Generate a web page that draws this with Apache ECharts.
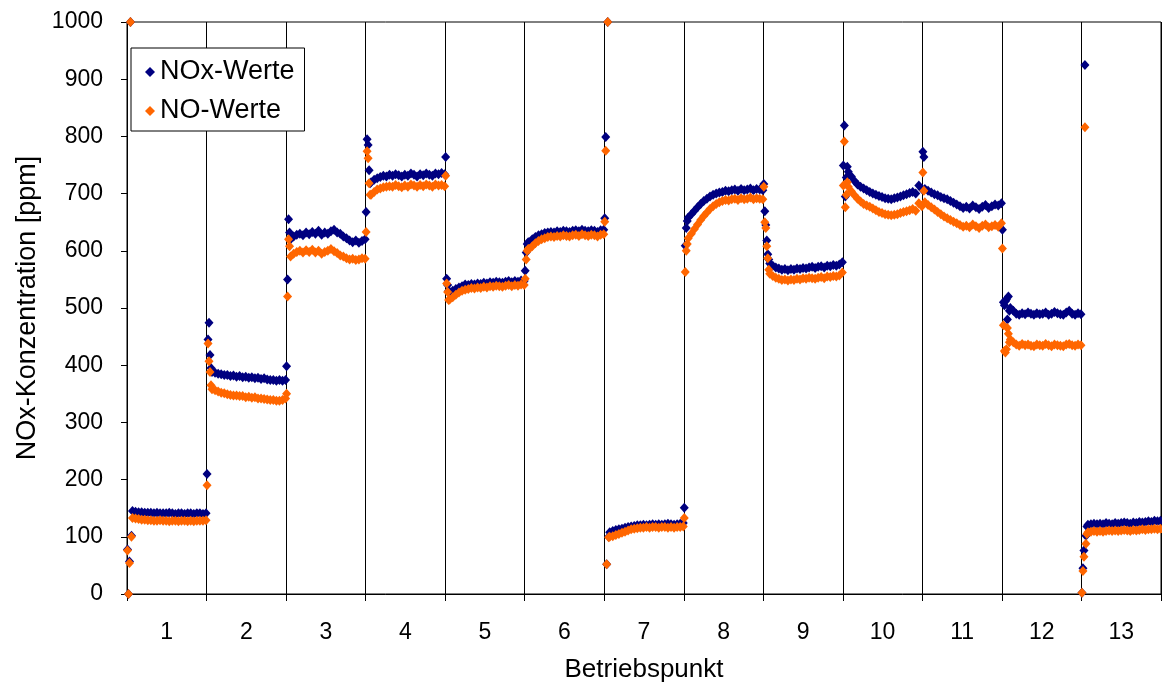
<!DOCTYPE html>
<html>
<head>
<meta charset="utf-8">
<title>NOx-Konzentration</title>
<script src="https://cdn.jsdelivr.net/npm/echarts@6/dist/echarts.min.js"></script>
<style>
  html, body { margin: 0; padding: 0; background: #fff; }
  #chart { width: 1162px; height: 688px; }
</style>
</head>
<body>
<div id="chart"></div>
<script>
  // Betriebspunkte (Beschriftung der x-Achse)
  const betriebspunkte = ['1', '2', '3', '4', '5', '6', '7', '8', '9', '10', '11', '12', '13'];

  // Einschwingwerte direkt nach dem Wechsel des Betriebspunkts [ppm]
  const noxStart = [
    [78, 0, 57, 1000, 102],
    [210, 445, 474, 418, 395],
    [398, 550, 655, 632],
    [668, 795, 785, 741, 718],
    [764, 551, 540, 530],
    [565, 597, 612, 615],
    [657, 799, 52, 1000, 100],
    [151, 609, 640, 652],
    [717, 669, 645, 618, 594, 585],
    [749, 819, 695, 728, 747],
    [773, 764],
    [637, 510, 505, 512, 515, 480, 520, 495],
    [2, 45, 76, 925, 102, 118]
  ];
  const noStart = [
    [76, 0, 54, 1000, 100],
    [190, 438, 407, 388, 365],
    [350, 520, 620, 608],
    [633, 774, 762, 718, 698],
    [731, 543, 528, 514],
    [551, 585, 600, 603],
    [651, 775, 52, 1000, 99],
    [133, 563, 600, 612],
    [712, 650, 640, 608, 587, 567],
    [714, 791, 676, 698, 720],
    [737, 705],
    [604, 470, 425, 422, 428, 465, 455, 440],
    [2, 40, 65, 816, 88, 105]
  ];

  // Messwerte danach [ppm]
  const noxWerte = [
    [145,144,143,143,142,142,142,141,142,141,141,141,142,141,140,141,141,140,141,141,140,141,141,140,141],
    [388,387,385,384,383,383,381,382,380,381,379,380,378,379,377,378,376,377,375,374,374,373,374,373,374],
    [620,625,628,630,627,632,629,633,630,635,628,632,630,634,637,632,630,625,622,618,615,618,614,617,620],
    [720,724,727,729,731,730,733,731,734,732,730,733,731,735,733,730,734,732,735,733,731,735,734,736,734],
    [528,530,533,536,538,541,540,542,541,543,542,544,543,545,544,546,545,544,546,547,545,547,546,548,547],
    [615,620,624,627,629,631,632,633,632,634,633,635,634,633,635,636,634,637,635,634,636,635,633,636,637],
    [108,110,112,113,114,116,117,118,119,120,120,121,120,121,122,121,122,121,122,123,122,121,122,123,124],
    [658,664,670,676,682,687,691,695,698,700,702,703,705,704,706,707,705,708,706,707,709,706,708,707,706],
    [578,574,571,569,567,568,566,568,567,569,568,570,569,571,572,570,572,573,571,574,573,575,574,576,580],
    [738,730,722,716,712,709,706,703,700,698,696,694,692,691,690,692,693,695,697,699,701,703,700,714,708],
    [708,705,702,699,697,694,692,690,687,684,681,678,675,677,674,679,676,673,677,680,675,678,681,679,683],
    [500,495,490,488,491,489,492,490,488,491,489,490,492,488,490,493,491,489,488,492,495,490,488,491,489],
    [121,122,123,122,123,122,124,123,122,124,123,124,125,124,123,125,124,126,125,126,127,126,128,127,128]
  ];
  const noWerte = [
    [133,132,131,130,130,129,129,128,128,129,128,128,127,128,128,127,128,128,127,128,127,128,128,128,129],
    [358,356,354,352,351,349,348,347,347,346,346,344,345,343,344,342,342,341,340,339,339,338,338,339,342],
    [590,595,598,600,597,601,598,602,597,600,595,598,600,603,599,596,592,590,587,585,586,584,585,587,586],
    [698,703,707,709,711,712,713,712,715,713,711,714,712,716,714,712,715,713,716,714,712,716,714,715,713],
    [515,519,523,527,530,532,533,535,534,536,535,537,536,538,537,539,538,537,539,540,538,540,539,541,540],
    [603,608,613,617,620,622,624,625,624,626,625,627,626,625,627,628,626,629,627,626,628,627,625,628,629],
    [100,101,103,105,107,109,111,113,114,115,116,116,117,116,117,117,116,117,117,116,117,116,117,117,118],
    [622,630,638,646,654,661,667,673,678,682,685,687,689,688,690,691,689,692,690,691,693,690,692,691,690],
    [560,556,553,551,549,550,548,550,549,551,550,552,551,553,552,551,553,554,552,555,554,556,555,557,562],
    [712,704,697,691,686,682,679,677,674,671,668,666,664,663,662,663,664,666,668,669,671,673,670,683,678],
    [685,680,676,672,668,664,660,657,654,651,648,645,642,644,641,646,643,640,644,646,641,643,645,642,648],
    [445,440,436,434,437,435,436,434,433,436,435,434,437,435,433,436,435,434,433,436,437,435,434,436,435],
    [108,109,110,109,110,109,110,111,110,111,110,111,112,111,110,112,111,112,113,112,113,113,114,113,114]
  ];

  // Messtakt: Einschwingwerte liegen dicht am Anfang des Betriebspunkts
  const takteProPunkt = 80;

  // Werte eines Betriebspunkts auf die x-Achse (0..13) verteilen
  function punkte(start, werte) {
    const step = 1 / takteProPunkt;
    let pts = [];
    for (let s = 0; s < start.length; s++) {
      start[s].forEach(function (v, j) {
        pts.push([s + (j + 0.5) * step, v]);
      });
      let x0 = s + (start[s].length + 0.5) * step;
      let x1 = s + 1 - 0.5 * step;
      let n = werte[s].length;
      werte[s].forEach(function (v, k) {
        pts.push([x0 + (x1 - x0) * k / (n - 1), v]);
      });
    }
    return pts;
  }

  const font = 'Liberation Sans, Arial, sans-serif';
  let myChart = echarts.init(document.getElementById('chart'));
  myChart.setOption({
    animation: false,
    textStyle: { fontFamily: font, color: '#000' },
    grid: {
      left: 127, right: 1, top: 22, bottom: 88,
      show: true, borderColor: '#000', borderWidth: 1
    },
    legend: {
      left: 131, top: 48,
      orient: 'vertical',
      backgroundColor: '#fff',
      borderColor: '#000',
      borderWidth: 1,
      padding: [9, 10, 5, 14],
      itemGap: 9,
      itemWidth: 10,
      itemHeight: 10,
      textStyle: { fontSize: 27, fontFamily: font, color: '#000', lineHeight: 30 },
      data: [
        { name: 'NOx-Werte', icon: 'diamond' },
        { name: 'NO-Werte', icon: 'diamond' }
      ]
    },
    xAxis: [
      {
        type: 'value',
        min: 0, max: betriebspunkte.length, interval: 1,
        position: 'bottom',
        axisLine: { lineStyle: { color: '#000', width: 1 } },
        axisTick: { show: true, length: 7, lineStyle: { color: '#000' } },
        axisLabel: { show: false },
        splitLine: { show: true, lineStyle: { color: '#000', width: 1 } }
      },
      {
        type: 'category',
        data: betriebspunkte,
        position: 'bottom',
        boundaryGap: true,
        axisLine: { show: false },
        axisTick: { show: false },
        axisLabel: { fontSize: 23, margin: 27, color: '#000', fontFamily: font },
        splitLine: { show: false },
        name: 'Betriebspunkt',
        nameLocation: 'middle',
        nameGap: 63,
        nameTextStyle: { fontSize: 26, color: '#000', fontFamily: font }
      }
    ],
    yAxis: {
      type: 'value',
      min: 0, max: 1000, interval: 100,
      axisLine: { show: true, lineStyle: { color: '#000', width: 1 } },
      axisTick: { show: true, length: 6, lineStyle: { color: '#000' } },
      axisLabel: {
        fontSize: 23, margin: 24, color: '#000', fontFamily: font,
        formatter: function (v) { return String(v); }
      },
      splitLine: { show: false },
      name: 'NOx-Konzentration [ppm]',
      nameLocation: 'middle',
      nameGap: 86,
      nameTextStyle: { fontSize: 27, color: '#000', fontFamily: font }
    },
    series: [
      {
        name: 'NOx-Werte',
        type: 'scatter',
        xAxisIndex: 0,
        symbol: 'diamond',
        symbolSize: [9, 10],
        itemStyle: { color: '#000080', opacity: 1 },
        data: punkte(noxStart, noxWerte)
      },
      {
        name: 'NO-Werte',
        type: 'scatter',
        xAxisIndex: 0,
        symbol: 'diamond',
        symbolSize: [9, 10],
        itemStyle: { color: '#FF6600', opacity: 1 },
        data: punkte(noStart, noWerte)
      }
    ]
  });
</script>
</body>
</html>
